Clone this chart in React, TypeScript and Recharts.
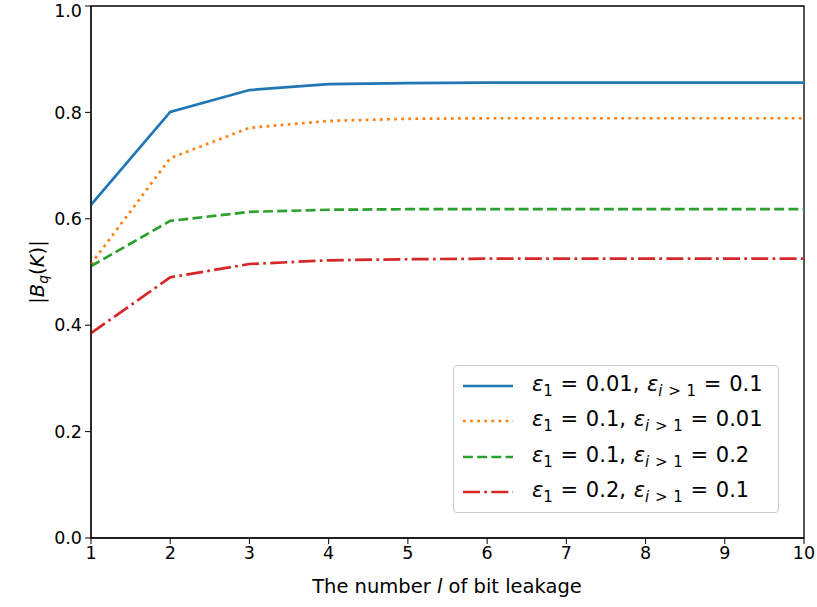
import { LineChart, Line, XAxis, YAxis, Label, ReferenceArea } from 'recharts'

const bits = [1, 2, 3, 4, 5, 6, 7, 8, 9, 10]
const seriesA = [0.626, 0.801, 0.842, 0.853, 0.855, 0.856, 0.856, 0.856, 0.856, 0.856]
const seriesB = [0.515, 0.714, 0.771, 0.784, 0.788, 0.789, 0.789, 0.789, 0.789, 0.789]
const seriesC = [0.511, 0.596, 0.613, 0.617, 0.618, 0.618, 0.618, 0.618, 0.618, 0.618]
const seriesD = [0.385, 0.49, 0.515, 0.522, 0.524, 0.525, 0.525, 0.525, 0.525, 0.525]
const xTicks = [1, 2, 3, 4, 5, 6, 7, 8, 9, 10]
const yTicks = [0, 0.2, 0.4, 0.6, 0.8, 1.0]

const legendRows = [
  { e1: '0.01', ei: '0.1', color: '#1f77b4', dash: undefined as string | undefined },
  { e1: '0.1', ei: '0.01', color: '#ff7f0e', dash: '2.7 4.4' },
  { e1: '0.1', ei: '0.2', color: '#2ca02c', dash: '9.9 4.3' },
  { e1: '0.2', ei: '0.1', color: '#d62728', dash: '17 4.3 2.7 4.3' },
]

const data = bits.map((b, i) => ({
  l: b,
  a: seriesA[i],
  b: seriesB[i],
  c: seriesC[i],
  d: seriesD[i],
}))

const font = 'DejaVu Sans, sans-serif'
const tickStyle = { fontSize: 17.5, fill: '#000', fontFamily: font }

function LegendBox() {
  return (
    <div
      style={{
        position: 'absolute',
        left: 453,
        top: 365,
        width: 326,
        height: 148,
        boxSizing: 'border-box',
        border: '1px solid #ccc',
        borderRadius: 4,
        background: 'rgba(255,255,255,0.8)',
        padding: '2px 8px 0 8px',
        fontFamily: font,
        fontSize: 21,
        color: '#000',
      }}
    >
      {legendRows.map((r, i) => (
        <div key={i} style={{ display: 'flex', alignItems: 'center', height: 35.5 }}>
          <svg width={52} height={10} style={{ marginRight: 18 }}>
            <line x1={1} y1={5} x2={51} y2={5} stroke={r.color} strokeWidth={2.7} strokeDasharray={r.dash} />
          </svg>
          <span style={{ whiteSpace: 'nowrap', wordSpacing: 1 }}>
            <i>ε</i>
            <sub style={{ fontSize: 15 }}>1</sub> = {r.e1}, <i>ε</i>
            <sub style={{ fontSize: 15 }}>
              <i>i</i> &gt; 1
            </sub>{' '}
            = {r.ei}
          </span>
        </div>
      ))}
    </div>
  )
}

export default function App() {
  return (
    <div style={{ position: 'absolute', left: 0, top: 0, width: 817, height: 607, background: '#fff' }}>
      <LineChart width={817} height={607} data={data} margin={{ top: 6, right: 13, bottom: 0, left: 0 }}>
        <XAxis
          dataKey="l"
          type="number"
          domain={[1, 10]}
          ticks={xTicks}
          tick={tickStyle}
          stroke="#000"
          tickSize={6}
          tickMargin={3}
          height={69}
        >
          <Label
            content={() => (
              <text x={447} y={593} textAnchor="middle" fontFamily={font} fontSize={19.5} fill="#000">
                The number <tspan fontStyle="italic">l</tspan> of bit leakage
              </text>
            )}
          />
        </XAxis>
        <YAxis
          type="number"
          domain={[0, 1]}
          ticks={yTicks}
          tickFormatter={(v: number) => v.toFixed(1)}
          tick={tickStyle}
          stroke="#000"
          tickSize={6}
          tickMargin={3}
          width={91}
        >
          <Label
            content={() => (
              <text
                x={44}
                y={272}
                transform="rotate(-90 44 272)"
                textAnchor="middle"
                fontFamily={font}
                fontSize={19.5}
                fill="#000"
              >
                |<tspan fontStyle="italic">B</tspan>
                <tspan fontStyle="italic" fontSize={14} dy={4}>q</tspan>
                <tspan dy={-4}>(</tspan>
                <tspan fontStyle="italic">K</tspan>)|
              </text>
            )}
          />
        </YAxis>
        <ReferenceArea x1={1} x2={10} y1={0} y2={1} fill="none" stroke="#000" strokeWidth={1.3} ifOverflow="visible" />
        <Line dataKey="a" stroke="#1f77b4" strokeWidth={2.7} dot={false} isAnimationActive={false} />
        <Line dataKey="b" stroke="#ff7f0e" strokeWidth={2.7} strokeDasharray="2.7 4.4" dot={false} isAnimationActive={false} />
        <Line dataKey="c" stroke="#2ca02c" strokeWidth={2.7} strokeDasharray="9.9 4.3" dot={false} isAnimationActive={false} />
        <Line dataKey="d" stroke="#d62728" strokeWidth={2.7} strokeDasharray="17 4.3 2.7 4.3" dot={false} isAnimationActive={false} />
      </LineChart>
      <LegendBox />
    </div>
  )
}
